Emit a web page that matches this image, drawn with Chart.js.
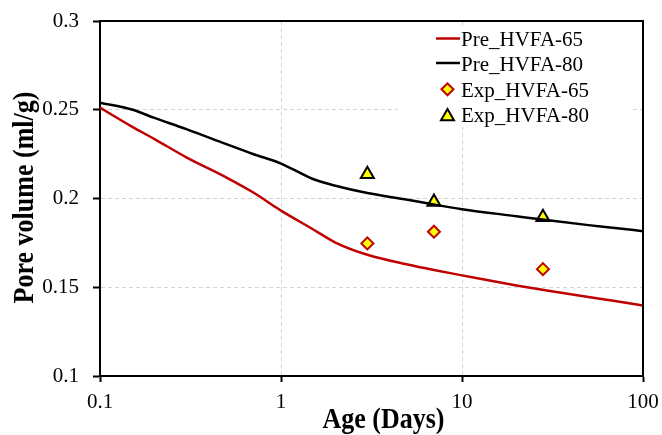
<!DOCTYPE html>
<html>
<head>
<meta charset="utf-8">
<script src="https://cdn.jsdelivr.net/npm/chart.js@4.4.1/dist/chart.umd.min.js"></script>
<style>
html,body{margin:0;padding:0;background:#fff;}
#wrap{width:662px;height:435px;}
</style>
</head>
<body>
<div id="wrap"><canvas id="c" width="662" height="435"></canvas></div>
<script>
// ---- data ----
const ageGrid   = [0.1, 0.15, 0.2, 0.3, 0.5, 0.7, 1, 1.5, 2, 3, 5, 7, 10, 20, 30, 50, 70, 100];
const preHVFA65 = [0.2512, 0.2405, 0.2335, 0.2232, 0.2118, 0.2035, 0.1932, 0.1827, 0.1752, 0.1683, 0.1628, 0.1597, 0.1567, 0.1510, 0.1480, 0.1445, 0.1422, 0.1397];
const preHVFA80 = [0.2540, 0.2501, 0.2454, 0.2391, 0.2306, 0.2251, 0.2197, 0.2110, 0.2072, 0.2031, 0.1993, 0.1966, 0.1940, 0.1900, 0.1877, 0.1850, 0.1834, 0.1816];
const expAge    = [3, 7, 28];
const expHVFA65 = [0.1747, 0.1813, 0.1602];
const expHVFA80 = [0.2137, 0.1980, 0.1894];
const seriesNames = ['Pre_HVFA-65', 'Pre_HVFA-80', 'Exp_HVFA-65', 'Exp_HVFA-80'];
const xTickValues = [0.1, 1, 10, 100];
const xTickLabels = ['0.1', '1', '10', '100'];
const yTickValues = [0.1, 0.15, 0.2, 0.25, 0.3];
const yTickLabels = ['0.1', '0.15', '0.2', '0.25', '0.3'];
const xTitle = 'Age (Days)';
const yTitle = 'Pore volume (ml/g)';

const RED = '#c00000';
const YELLOW = '#ffff00';
const GRID = '#d4d4d4';
const FONT = '"Liberation Serif", "Times New Roman", serif';

const toXY = (xs, ys) => xs.map((x, i) => ({x: x, y: ys[i]}));

const frameAndTitles = {
  id: 'frameAndTitles',
  afterDraw(chart) {
    const ctx = chart.ctx;
    const a = chart.chartArea;
    ctx.save();
    ctx.strokeStyle = '#000';
    ctx.lineWidth = 2;
    ctx.beginPath();
    ctx.moveTo(a.left, a.top);
    ctx.lineTo(a.right, a.top);
    ctx.lineTo(a.right, a.bottom);
    ctx.stroke();
    ctx.fillStyle = '#000';
    ctx.font = 'bold 26px ' + FONT;
    ctx.textAlign = 'center';
    ctx.textBaseline = 'alphabetic';
    // x axis title
    ctx.save();
    ctx.translate((a.left + a.right) / 2 + 12, 428);
    ctx.scale(1, 1.1);
    ctx.fillText(xTitle, 0, 0);
    ctx.restore();
    // y axis title
    ctx.save();
    ctx.translate(33, (a.top + a.bottom) / 2 - 1);
    ctx.rotate(-Math.PI / 2);
    ctx.scale(1, 1.1);
    ctx.fillText(yTitle, 0, 0);
    ctx.restore();
    ctx.restore();
  }
};

const legendBox = {
  id: 'legendBox',
  beforeDatasetsDraw(chart) {
    const ctx = chart.ctx;
    ctx.save();
    ctx.fillStyle = '#fff';
    ctx.fillRect(398, 28, 232, 99);
    const rows = [38.5, 63, 89.3, 114.5];
    const sx = 447.5;
    ctx.font = '21px ' + FONT;
    ctx.textAlign = 'left';
    ctx.textBaseline = 'alphabetic';
    chart.data.datasets.forEach((ds, i) => {
      const y = rows[i];
      if (ds.showLine) {
        ctx.strokeStyle = ds.borderColor;
        ctx.lineWidth = ds.borderWidth;
        ctx.beginPath();
        ctx.moveTo(436, y);
        ctx.lineTo(460, y);
        ctx.stroke();
      } else {
        ctx.fillStyle = ds.pointBackgroundColor;
        ctx.strokeStyle = ds.pointBorderColor;
        ctx.lineWidth = ds.pointBorderWidth;
        Chart.helpers.drawPoint(ctx, {
          pointStyle: ds.pointStyle,
          radius: ds.pointRadius,
          rotation: 0,
          borderWidth: ds.pointBorderWidth
        }, sx, ds.pointStyle === 'triangle' ? y + 2 : y);
      }
      ctx.fillStyle = '#000';
      ctx.fillText(ds.label, 461, y + 7.5);
    });
    ctx.restore();
  }
};

new Chart(document.getElementById('c'), {
  type: 'scatter',
  data: {
    datasets: [
      {
        label: seriesNames[0],
        data: toXY(ageGrid, preHVFA65),
        showLine: true,
        borderColor: RED,
        borderWidth: 2.5,
        pointRadius: 0,
        cubicInterpolationMode: 'monotone'
      },
      {
        label: seriesNames[1],
        data: toXY(ageGrid, preHVFA80),
        showLine: true,
        borderColor: '#000',
        borderWidth: 2.5,
        pointRadius: 0,
        cubicInterpolationMode: 'monotone'
      },
      {
        label: seriesNames[2],
        data: toXY(expAge, expHVFA65),
        showLine: false,
        pointStyle: 'rectRot',
        pointRadius: 6,
        pointBorderWidth: 2,
        pointBackgroundColor: YELLOW,
        pointBorderColor: RED
      },
      {
        label: seriesNames[3],
        data: toXY(expAge, expHVFA80),
        showLine: false,
        pointStyle: 'triangle',
        pointRadius: 7.5,
        pointBorderWidth: 2,
        pointBackgroundColor: YELLOW,
        pointBorderColor: '#000'
      }
    ]
  },
  options: {
    responsive: false,
    devicePixelRatio: 1,
    animation: false,
    layout: {padding: {left: 0, top: 21, right: 19, bottom: 0}},
    plugins: {
      legend: {display: false},
      tooltip: {enabled: false}
    },
    scales: {
      x: {
        type: 'logarithmic',
        position: 'bottom',
        min: 0.1,
        max: 100,
        afterBuildTicks: s => { s.ticks = xTickValues.map(v => ({value: v})); },
        afterFit: s => { s.height = 59; s.paddingLeft = 0; s.paddingRight = 0; },
        ticks: {
          autoSkip: false,
          maxRotation: 0,
          color: '#000',
          padding: 8,
          font: {family: FONT, size: 21},
          callback: (v, i) => xTickLabels[i]
        },
        grid: {
          color: c => (c.index > 0 && c.index < xTickValues.length - 1) ? GRID : 'rgba(0,0,0,0)',
          lineWidth: 1,
          tickColor: '#000',
          tickLength: 6,
          tickWidth: 2
        },
        border: {display: true, color: '#000', width: 2, dash: [4, 3]},
        title: {display: false, text: xTitle}
      },
      y: {
        type: 'linear',
        position: 'left',
        min: 0.1,
        max: 0.3,
        afterBuildTicks: s => { s.ticks = yTickValues.map(v => ({value: v})); },
        afterFit: s => { s.width = 100; s.paddingTop = 0; s.paddingBottom = 0; },
        ticks: {
          autoSkip: false,
          color: '#000',
          padding: 14,
          font: {family: FONT, size: 21},
          callback: (v, i) => yTickLabels[i]
        },
        grid: {
          color: c => (c.index > 0 && c.index < yTickValues.length - 1) ? GRID : 'rgba(0,0,0,0)',
          lineWidth: 1,
          tickColor: '#000',
          tickLength: 7,
          tickWidth: 2
        },
        border: {display: true, color: '#000', width: 2, dash: [4, 3]},
        title: {display: false, text: yTitle}
      }
    }
  },
  plugins: [legendBox, frameAndTitles]
});
</script>
</body>
</html>
